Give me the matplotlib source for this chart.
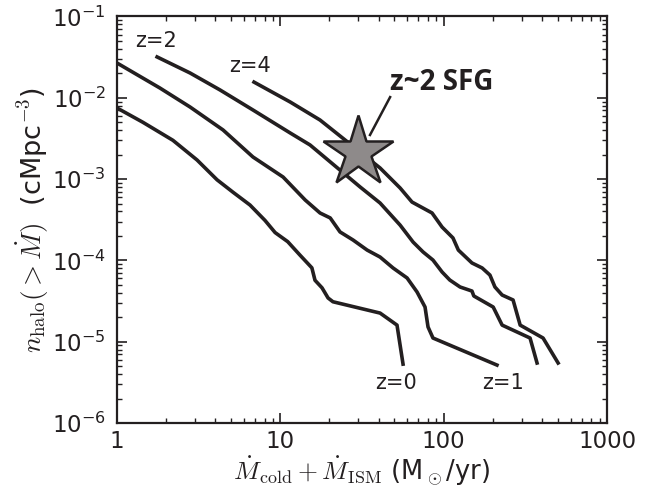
import numpy as np
import matplotlib
matplotlib.use("Agg")
import matplotlib.pyplot as plt

plt.rcParams['font.family'] = ['DejaVu Sans']
plt.rcParams['mathtext.fontset'] = 'cm'

INK = '#231f20'

# cumulative halo number density vs. accretion rate, one curve per redshift
mdot_z0 = [1.0, 1.44, 2.2, 3.09, 4.1, 5.13, 6.52, 8.06, 9.29, 11.1, 13.2, 15.6,
           16.3, 18.0, 19.6, 21.0, 40.8, 51.8, 56.4]
nh_z0 = [7.5e-3, 5.0e-3, 3.0e-3, 1.72e-3, 9.8e-4, 6.9e-4, 4.8e-4, 3.1e-4, 2.2e-4,
         1.7e-4, 1.16e-4, 8.1e-5, 5.7e-5, 4.6e-5, 3.45e-5, 3.1e-5, 2.25e-5,
         1.6e-5, 5.3e-6]

mdot_z1 = [1.0, 1.83, 2.8, 4.46, 6.8, 10.4, 14.2, 17.5, 20.2, 23.2, 27.9, 34.0,
           40.8, 49.0, 59.7, 68.7, 76.9, 80.2, 86.0, 212]
nh_z1 = [2.68e-2, 1.32e-2, 7.71e-3, 4.02e-3, 1.87e-3, 1.06e-3, 5.53e-4, 3.83e-4,
         3.33e-4, 2.24e-4, 1.78e-4, 1.34e-4, 1.10e-4, 8.07e-5, 6.08e-5, 4.09e-5,
         2.67e-5, 1.52e-5, 1.11e-5, 5.16e-6]

mdot_z2 = [1.76, 2.8, 4.27, 6.8, 11.5, 15.2, 23.2, 30.8, 40.8, 54.1, 65.0, 74.8,
           86.0, 97.8, 109, 126, 149, 153, 201, 228, 338, 373]
nh_z2 = [3.18e-2, 2.02e-2, 1.25e-2, 7.08e-3, 3.69e-3, 2.63e-3, 1.29e-3, 8.0e-4,
         5.08e-4, 2.72e-4, 1.68e-4, 1.27e-4, 1.01e-4, 7.2e-5, 5.74e-5, 4.71e-5,
         4.2e-5, 3.65e-5, 2.67e-5, 1.6e-5, 1.11e-5, 5.47e-6]

mdot_z4 = [6.9, 11.5, 17.5, 24.9, 40.8, 54.1, 64.0, 84.9, 97.8, 114, 123, 149,
           172, 192, 206, 228, 266, 294, 406, 502]
nh_z4 = [1.56e-2, 8.87e-3, 5.33e-3, 3.03e-3, 1.37e-3, 7.78e-4, 5.22e-4, 3.83e-4,
         2.57e-4, 1.89e-4, 1.34e-4, 9.3e-5, 8.07e-5, 6.6e-5, 4.71e-5, 3.75e-5,
         3.26e-5, 1.6e-5, 1.11e-5, 5.47e-6]

# observed star-forming galaxies at z~2
sfg_mdot = 29.9
sfg_nh = 2.15e-3

fig = plt.figure(figsize=(6.58, 4.94), dpi=100)
ax = fig.add_axes([0.1778, 0.1437, 0.7447, 0.8229])

for xs, ys in [(mdot_z0, nh_z0), (mdot_z1, nh_z1), (mdot_z2, nh_z2), (mdot_z4, nh_z4)]:
    ax.plot(xs, ys, color=INK, lw=2.6, solid_joinstyle='round', zorder=2)

ax.plot([47.0, 35.4], [1.02e-2, 3.49e-3], color=INK, lw=1.8, zorder=3)
ax.plot(sfg_mdot, sfg_nh, marker='*', ms=53, mfc='#8e8a8a', mec=INK, mew=1.8,
        zorder=4)
ax.text(97.8, 1.56e-2, 'z~2 SFG', fontsize=20, fontweight='bold',
        family=['Open Sans', 'DejaVu Sans'], color=INK, ha='center', va='center')

ax.text(1.73, 5.0e-2, 'z=2', fontsize=15, color=INK, ha='center', va='center')
ax.text(6.52, 2.46e-2, 'z=4', fontsize=15, color=INK, ha='center', va='center')
ax.text(51.1, 3.1e-6, 'z=0', fontsize=15, color=INK, ha='center', va='center')
ax.text(231, 3.1e-6, 'z=1', fontsize=15, color=INK, ha='center', va='center')

ax.set_xscale('log')
ax.set_yscale('log')
ax.set_xlim(1, 1000)
ax.set_ylim(1e-6, 1e-1)

ax.set_xticks([1, 10, 100, 1000])
ax.set_xticklabels(['1', '10', '100', '1000'])
ax.set_yticks([1e-6, 1e-5, 1e-4, 1e-3, 1e-2, 1e-1])
ax.set_yticklabels([r'$\mathregular{10^{-%d}}$' % k for k in [6, 5, 4, 3, 2, 1]])

ax.tick_params(which='both', direction='in', top=True, right=True, color=INK,
               labelcolor=INK, labelsize=16.5)
ax.tick_params(which='major', length=7, width=1.2)
ax.tick_params(which='minor', length=3.5, width=1.0)
ax.tick_params(axis='x', pad=5)
ax.tick_params(axis='y', pad=8)
for sp in ax.spines.values():
    sp.set_linewidth(1.6)
    sp.set_color(INK)

ax.set_xlabel(r'$\dot{M}_{\rm cold}+\dot{M}_{\rm ISM}$ (M$_\odot$/yr)',
              fontsize=18.5, color=INK, labelpad=1)
ax.set_ylabel(r'$n_{\rm halo}(>\dot{M})$  (cMpc$^{-3}$)',
              fontsize=19.5, color=INK, labelpad=1)

fig.savefig('out.png', dpi=100)
